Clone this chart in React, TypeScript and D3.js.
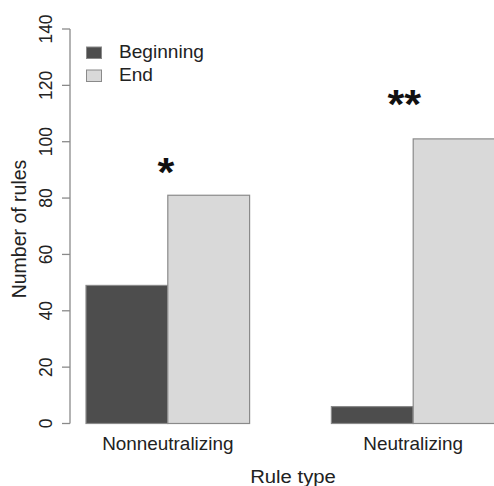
import React from "react";
import * as d3 from "d3";

const categories = ["Nonneutralizing", "Neutralizing"];
const seriesNames = ["Beginning", "End"];
const beginning = [49, 6];
const end = [81, 101];
const yTicks = [0, 20, 40, 60, 80, 100, 120, 140];
const stars = ["*", "**"];
const starValues = [84.3, 108.4];
const colors = ["#4d4d4d", "#d9d9d9"];

const SX = 1.08; // horizontal stretch of the reference image

export default function App() {
  const W = 494, H = 486;
  const font = "Liberation Sans, Arial, Helvetica, sans-serif";
  const y = d3.scaleLinear().domain([0, 140]).range([423.5, 29]);
  const barW = 81.8;
  const x0 = d3.scaleBand<string>().domain(categories).range([86, 86 + barW * 5]).paddingInner(1 / 3).paddingOuter(0);
  const x1 = d3.scaleBand<string>().domain(seriesNames).range([0, x0.bandwidth()]);
  const values = [beginning, end];
  const starDx = [-2, -9];
  const hText = (x: number, yy: number) => `translate(${x},${yy}) scale(${SX},1)`;
  return (
    <svg width={W} height={H} style={{ position: "absolute", left: 0, top: 0, background: "#fff" }} fontFamily={font}>
      {categories.map((c, ci) =>
        seriesNames.map((s, si) => {
          const v = values[si][ci];
          return (
            <rect key={c + s} x={(x0(c) ?? 0) + (x1(s) ?? 0)} y={y(v)} width={x1.bandwidth()} height={y(0) - y(v)}
              fill={colors[si]} stroke="#8a8a8a" strokeWidth={1.2} />
          );
        })
      )}
      <line x1={70} x2={70} y1={y(0)} y2={y(140)} stroke="#8a8a8a" strokeWidth={1.3} />
      {yTicks.map((t) => (
        <g key={t}>
          <line x1={62} x2={70} y1={y(t)} y2={y(t)} stroke="#8a8a8a" strokeWidth={1.3} />
          <text transform={`translate(52,${y(t)}) rotate(-90)`} textAnchor="middle" fontSize={17.5} fill="#222">{t}</text>
        </g>
      ))}
      <text transform={`translate(26,229) rotate(-90)`} textAnchor="middle" fontSize={19.5} fill="#222">Number of rules</text>
      {categories.map((c) => (
        <text key={c} transform={hText((x0(c) ?? 0) + x0.bandwidth() / 2, 450)} textAnchor="middle" fontSize={17.5} fill="#222">{c}</text>
      ))}
      <text transform={hText(293, 483)} textAnchor="middle" fontSize={18.8} fill="#222">Rule type</text>
      {categories.map((c, ci) => (
        <text key={c + "s"} transform={hText((x0(c) ?? 0) + x0.bandwidth() / 2 + starDx[ci], y(starValues[ci]))}
          textAnchor="middle" fontSize={40} fontWeight="bold" fill="#111">{stars[ci]}</text>
      ))}
      {seriesNames.map((s, si) => (
        <g key={s}>
          <rect x={86.5} y={47 + si * 23} width={15} height={11.5} fill={colors[si]} stroke="#8a8a8a" strokeWidth={1} />
          <text transform={hText(119, 58.3 + si * 22.5)} fontSize={17.7} fill="#222">{s}</text>
        </g>
      ))}
    </svg>
  );
}
